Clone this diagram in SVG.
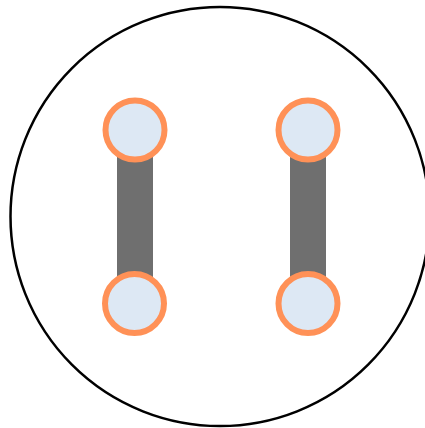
<svg xmlns="http://www.w3.org/2000/svg" width="425" height="428" viewBox="0 0 425 428">
<style>
.node{fill:#dde8f4;stroke:#ff9157;stroke-width:6}
.edge{stroke:#6f6f6f;stroke-width:36;stroke-linecap:butt}
</style>
<rect width="425" height="428" fill="#fff"/>
<circle id="boundary" cx="220" cy="216.5" r="209.5" fill="none" stroke="#000" stroke-width="2.5"/>
<g id="connectors">
<line class="edge" x1="135" y1="130" x2="135" y2="303"/>
<line class="edge" x1="308" y1="130" x2="308" y2="303"/>
</g>
<g id="n1"><circle class="node" cx="135" cy="130" r="29.5"/></g>
<g id="n2"><circle class="node" cx="134.5" cy="303.5" r="29.5"/></g>
<g id="n3"><circle class="node" cx="308" cy="130" r="29.5"/></g>
<g id="n4"><circle class="node" cx="308" cy="303.5" r="29.5"/></g>
</svg>
